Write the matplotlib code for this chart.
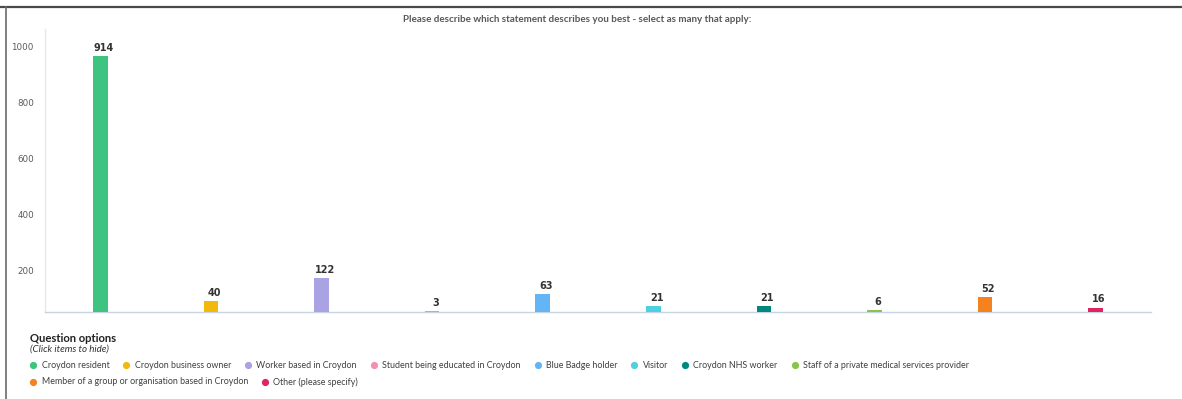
import matplotlib
matplotlib.use("Agg")
import matplotlib.pyplot as plt
import matplotlib.transforms as mtransforms
from matplotlib import font_manager
from matplotlib.lines import Line2D

# ---- data -------------------------------------------------------------
categories = [
    "Croydon resident",
    "Croydon business owner",
    "Worker based in Croydon",
    "Student being educated in Croydon",
    "Blue Badge holder",
    "Visitor",
    "Croydon NHS worker",
    "Staff of a private medical services provider",
    "Member of a group or organisation based in Croydon",
    "Other (please specify)",
]
counts = [914, 40, 122, 3, 63, 21, 21, 6, 52, 16]
colors = [
    "#3EC480", "#F2B80C", "#A9A2E3", "#F48FB1", "#64B5F6",
    "#4DD0E1", "#00897B", "#8BC34A", "#F5821F", "#E0245E",
]
y_ticks = [200, 400, 600, 800, 1000]
title = "Please describe which statement describes you best - select as many that apply:"
legend_title = "Question options"
legend_hint = "(Click items to hide)"
legend_rows = [8, 2]

# ---- fonts --------------------------------------------------------------
installed = {f.name for f in font_manager.fontManager.ttflist}
ui_font = [f for f in ("Lato", "Liberation Sans") if f in installed][:1] + ["DejaVu Sans"]
plt.rcParams["font.family"] = ["DejaVu Sans"]

W, H = 1182, 399
fig = plt.figure(figsize=(W / 100, H / 100), dpi=100)

def fx(px):
    return px / W

def fy(py):
    return 1 - py / H

# ---- frame lines around the panel -----------------------------------
fig.add_artist(Line2D([0, 1], [fy(7), fy(7)], color="#4a4a4a", lw=1.6,
                      transform=fig.transFigure))
fig.add_artist(Line2D([fx(5.5), fx(5.5)], [0, fy(7)], color="#6a6a6a", lw=1.2,
                      transform=fig.transFigure))

# ---- plot area ------------------------------------------------------------
left, right, top, base = 45, 1151, 29, 312
ax = fig.add_axes([fx(left), fy(base), fx(right - left), (base - top) / H])
x = list(range(len(categories)))
ax.bar(x, counts, width=0.133, color=colors, zorder=3)
ax.set_xlim(-0.5, len(categories) - 0.5)
ax.set_ylim(0, 1010)

for side in ("top", "right"):
    ax.spines[side].set_visible(False)
ax.spines["left"].set_color("#e3e7ee")
ax.spines["left"].set_linewidth(1.0)
ax.spines["bottom"].set_color("#c5d3e3")
ax.spines["bottom"].set_linewidth(1.0)
ax.set_xticks([])
ax.set_yticks(y_ticks)
ax.set_yticklabels([str(t) for t in y_ticks])
ax.tick_params(axis="y", length=0, pad=8, labelsize=6.3, labelcolor="#5a5a5a")

# y labels sit a little below their grid value
shift = mtransforms.ScaledTranslation(0, -15 / 100, fig.dpi_scale_trans)
for tick in ax.yaxis.get_major_ticks():
    tick.label1.set_transform(tick.label1.get_transform() + shift)

for xi, v in zip(x, counts):
    ax.annotate(str(v), (xi, v), xytext=(2.4, 5.8), textcoords="offset points",
                ha="center", va="center", fontsize=7, fontweight="bold",
                color="#333333")

# ---- title ---------------------------------------------------------------
fig.text(fx(577), fy(20), title, ha="center", va="center", fontsize=7.1,
         fontweight="bold", color="#595959", family=ui_font)

# ---- legend ----------------------------------------------------------------
fig.text(fx(30), fy(338), legend_title, ha="left", va="center", fontsize=8.1,
         fontweight="bold", color="#222222", family=ui_font)
fig.text(fx(30), fy(349), legend_hint, ha="left", va="center", fontsize=7.0,
         style="italic", color="#333333", family=ui_font)

renderer = fig.canvas.get_renderer()
row_y = [365, 382]
idx = 0
for r, n in enumerate(legend_rows):
    cx = 33.3
    for k in range(n):
        i = idx + k
        fig.add_artist(Line2D([fx(cx)], [fy(row_y[r])], marker="o", markersize=5.2,
                              markeredgewidth=0, color=colors[i],
                              transform=fig.transFigure))
        t = fig.text(fx(cx + 8.3), fy(row_y[r]), categories[i], ha="left",
                     va="center", fontsize=6.4, color="#404040", family=ui_font)
        bb = t.get_window_extent(renderer)
        cx = bb.x1 + 17
    idx += n

fig.savefig("out.png", dpi=100)
